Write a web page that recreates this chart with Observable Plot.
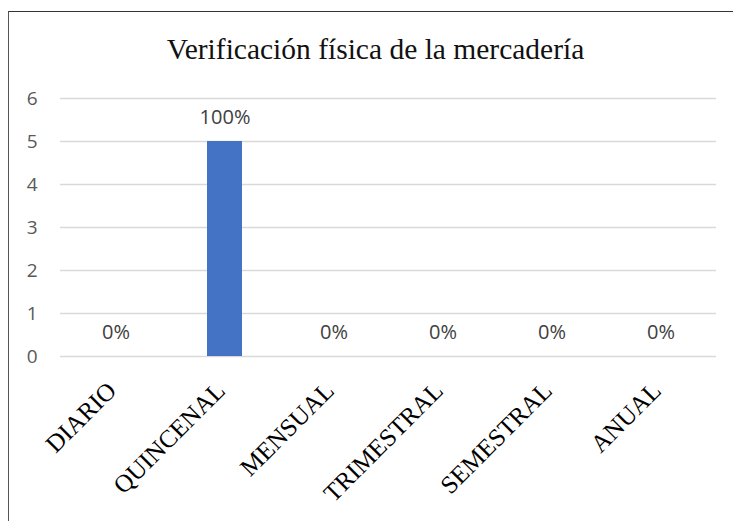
<!DOCTYPE html>
<html>
<head>
<meta charset="utf-8">
<script src="https://cdn.jsdelivr.net/npm/d3@7"></script>
<script src="https://cdn.jsdelivr.net/npm/@observablehq/plot@0.6"></script>
<style>
  html, body { margin: 0; padding: 0; background: #fff; }
  #wrap { position: relative; width: 733px; height: 521px; overflow: hidden; }
  #frame { position: absolute; left: 8px; top: 11px; width: 740px; height: 530px;
           border-top: 1.5px solid #333; border-left: 1.5px solid #555; box-sizing: border-box; }
  #title { position: absolute; left: 0; top: 35px; width: 733px; padding-left: 18px; box-sizing: border-box;
           text-align: center; font-family: "Liberation Serif", "Times New Roman", serif; font-size: 29.5px;
           line-height: 1; color: #111; }
  #chart { position: absolute; left: 0; top: 0; }
</style>
</head>
<body>
<div id="wrap">
  <div id="chart"></div>
  <div id="frame"></div>
  <div id="title">Verificación física de la mercadería</div>
</div>
<script>
const categories = ["DIARIO", "QUINCENAL", "MENSUAL", "TRIMESTRAL", "SEMESTRAL", "ANUAL"];
const counts = [0, 5, 0, 0, 0, 0];
const percentLabels = ["0%", "100%", "0%", "0%", "0%", "0%"];
const yTicks = [0, 1, 2, 3, 4, 5, 6];

const data = categories.map((c, i) => ({cat: c, n: counts[i], pct: percentLabels[i]}));
const sans = "'Open Sans', 'Liberation Sans', sans-serif";
const serif = "'Liberation Serif', 'Times New Roman', serif";

const chart = Plot.plot({
  width: 733,
  height: 521,
  marginLeft: 60,
  marginRight: 17,
  marginTop: 98,
  marginBottom: 165,
  style: {background: "transparent", overflow: "visible"},
  x: {domain: categories, paddingInner: 0.68, paddingOuter: 0.34, axis: null},
  y: {domain: [0, 6], axis: null},
  marks: [
    Plot.gridY(yTicks, {stroke: "#d9d9d9", strokeOpacity: 1, strokeWidth: 1.5}),
    Plot.barY(data, {x: "cat", y: "n", fill: "#4472C4"}),
    Plot.text(data, {x: "cat", y: "n", text: "pct", dy: -24, fontSize: 20, fontFamily: sans, fill: "#404040"}),
    Plot.axisY({ticks: yTicks, tickFormat: d3.format("d"), tickSize: 0, tickPadding: 23, fontSize: 19, fontFamily: sans, color: "#595959", label: null}),
    Plot.text(categories, {x: d => d, frameAnchor: "bottom", text: d => d, rotate: -45, textAnchor: "end",
      lineAnchor: "middle", dx: -4, dy: 30, fontSize: 25, fontFamily: serif, fill: "#000"})
  ]
});
document.getElementById("chart").appendChild(chart);
</script>
</body>
</html>
